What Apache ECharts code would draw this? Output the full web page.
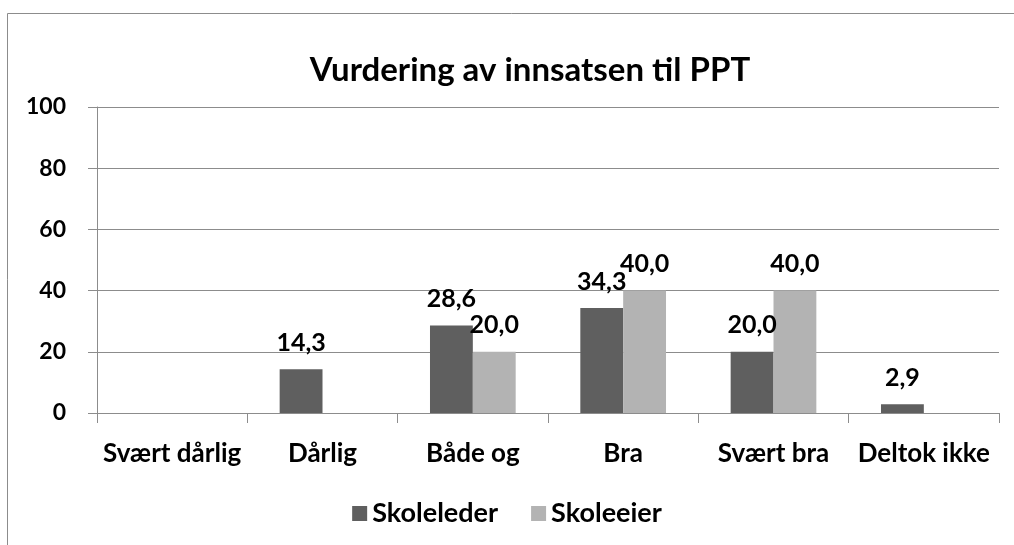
<!DOCTYPE html>
<html>
<head>
<meta charset="utf-8">
<script src="https://cdn.jsdelivr.net/npm/echarts@6/dist/echarts.min.js"></script>
<style>
  html, body { margin: 0; padding: 0; background: #fff; }
  #chart { width: 1014px; height: 545px; }
</style>
</head>
<body>
<div id="chart"></div>
<script>
const categories = ['Svært dårlig', 'Dårlig', 'Både og', 'Bra', 'Svært bra', 'Deltok ikke'];
const skoleleder = [null, 14.3, 28.6, 34.3, 20.0, 2.9];
const skoleeier = [null, null, 20.0, 40.0, 40.0, null];
const yTicks = { min: 0, max: 100, interval: 20 };

const font = 'Lato, "Open Sans", sans-serif';
const fmt = p => p.value == null ? '' : p.value.toFixed(1).replace('.', ',');
const labelStyle = {
  show: true, position: 'top', distance: 14, formatter: fmt,
  color: '#000', fontSize: 25, fontWeight: 'bold', fontFamily: font
};

const chart = echarts.init(document.getElementById('chart'));
chart.setOption({
  animation: false,
  backgroundColor: '#fff',
  graphic: [{
    type: 'rect', left: 5, top: 11,
    shape: { width: 1040, height: 560 },
    style: { fill: 'none', stroke: '#8c8c8c', lineWidth: 1 },
    silent: true
  }],
  title: {
    text: 'Vurdering av innsatsen til PPT',
    left: 525, top: 49, textAlign: 'center',
    textStyle: { fontSize: 33, fontWeight: 'bold', color: '#000', fontFamily: font }
  },
  legend: {
    data: ['Skoleleder', 'Skoleeier'],
    left: 'center', top: 495, itemWidth: 15, itemHeight: 15, itemGap: 33,
    icon: 'rect',
    textStyle: { fontSize: 27, fontWeight: 'bold', color: '#000', fontFamily: font }
  },
  grid: { left: 97, right: 15, top: 107, bottom: 132 },
  xAxis: {
    type: 'category', data: categories,
    axisLine: { lineStyle: { color: '#8c8c8c' } },
    axisTick: { show: true, length: 10, lineStyle: { color: '#8c8c8c' } },
    axisLabel: { interval: 0, margin: 28, fontSize: 26, fontWeight: 'bold', color: '#000', fontFamily: font }
  },
  yAxis: {
    type: 'value', min: yTicks.min, max: yTicks.max, interval: yTicks.interval,
    axisLine: { show: true, lineStyle: { color: '#8c8c8c' } },
    axisTick: { show: true, length: 9, lineStyle: { color: '#8c8c8c' } },
    splitLine: { lineStyle: { color: '#8c8c8c' } },
    axisLabel: { margin: 31, fontSize: 23, fontWeight: 'bold', color: '#000', fontFamily: font }
  },
  series: [
    { name: 'Skoleleder', type: 'bar', data: skoleleder, barGap: '0%', barCategoryGap: '43%',
      itemStyle: { color: '#5f5f5f' }, label: labelStyle },
    { name: 'Skoleeier', type: 'bar', data: skoleeier,
      itemStyle: { color: '#b3b3b3' }, label: labelStyle }
  ]
});
</script>
</body>
</html>
